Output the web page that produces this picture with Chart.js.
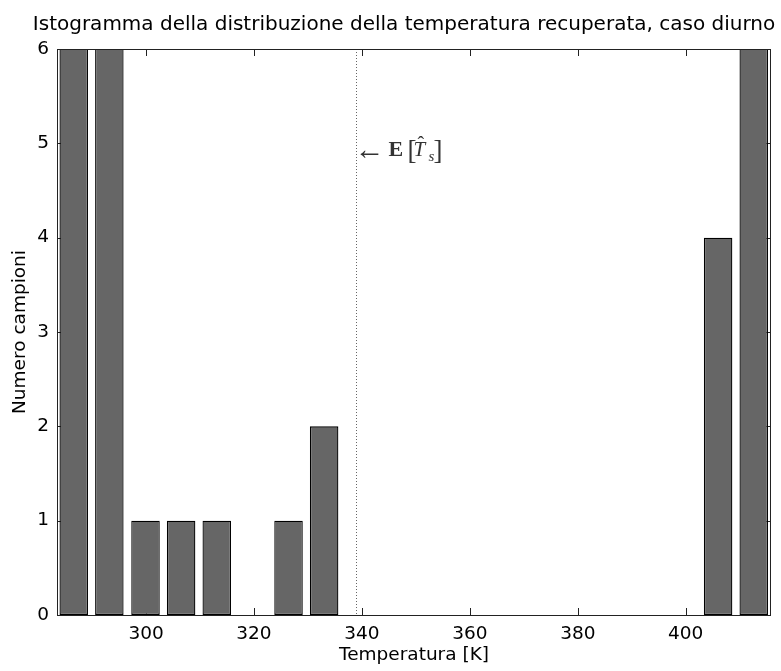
<!DOCTYPE html>
<html>
<head>
<meta charset="utf-8">
<title>Istogramma temperatura recuperata</title>
<script src="https://cdn.jsdelivr.net/npm/chart.js@4.4.1/dist/chart.umd.min.js"></script>
<style>
    html, body { margin: 0; padding: 0; background: #fff; }
    #wrap { width: 781px; height: 671px; }
</style>
</head>
<body>
<div id="wrap"><canvas id="histChart" width="781" height="671"></canvas></div>
<script>
// Centri dei 20 bin dell'istogramma [K] e numero di campioni per bin
const binCenters = [286.6, 293.2, 299.9, 306.5, 313.1, 319.8, 326.4, 333.0, 339.6, 346.3,
                    352.9, 359.5, 366.2, 372.8, 379.4, 386.1, 392.7, 399.3, 406.0, 412.6];
const counts = [25, 12, 1, 1, 1, 0, 1, 2, 0, 0,
                0, 0, 0, 0, 0, 0, 0, 0, 4, 18];

const xTicks = [300, 320, 340, 360, 380, 400];
const yTicks = [0, 1, 2, 3, 4, 5, 6];

// valore atteso della temperatura stimata
const meanT = 338.9;
const meanLabelY = 4.91;

const sansFont = "'DejaVu Sans', Arial, sans-serif";
const serifFont = "'Liberation Serif', 'DejaVu Serif', serif";

// box degli assi con tacche interne (stile MATLAB)
const axesBox = {
    id: 'axesBox',
    beforeDatasetsDraw(chart) {
        const { ctx, chartArea: a, scales: { x, y } } = chart;
        const tick = 7;
        ctx.save();
        ctx.strokeStyle = '#222';
        ctx.lineWidth = 1;
        ctx.beginPath();
        xTicks.forEach(v => {
            const px = Math.round(x.getPixelForValue(v)) + 0.5;
            ctx.moveTo(px, a.bottom);
            ctx.lineTo(px, a.bottom - tick);
            ctx.moveTo(px, a.top);
            ctx.lineTo(px, a.top + tick);
        });
        yTicks.forEach(v => {
            const py = Math.round(y.getPixelForValue(v)) + 0.5;
            ctx.moveTo(a.left, py);
            ctx.lineTo(a.left + tick, py);
            ctx.moveTo(a.right, py);
            ctx.lineTo(a.right - tick, py);
        });
        ctx.stroke();
        ctx.restore();
    },
    afterDatasetsDraw(chart) {
        const { ctx, chartArea: a, scales: { x, y } } = chart;
        ctx.save();

        // linea tratteggiata della media
        const mx = Math.round(x.getPixelForValue(meanT)) + 0.5;
        ctx.strokeStyle = '#666';
        ctx.lineWidth = 1;
        ctx.setLineDash([1, 2]);
        ctx.beginPath();
        ctx.moveTo(mx, a.top);
        ctx.lineTo(mx, a.bottom);
        ctx.stroke();
        ctx.setLineDash([]);

        // cornice
        ctx.strokeStyle = '#222';
        ctx.strokeRect(Math.round(a.left) + 0.5, Math.round(a.top) + 0.5,
                       Math.round(a.right - a.left) - 1, Math.round(a.bottom - a.top));

        // etichetta  <- E[T^_s]
        const ly = y.getPixelForValue(meanLabelY) + 4;
        ctx.fillStyle = '#333';
        ctx.textBaseline = 'alphabetic';
        ctx.textAlign = 'left';

        ctx.font = '30px ' + serifFont;
        ctx.fillText('\u2190', mx - 2, ly + 3);

        ctx.font = 'bold 22px ' + serifFont;
        ctx.fillText('E', mx + 32, ly);

        ctx.font = '27px ' + serifFont;
        ctx.fillText('[', mx + 51, ly + 3);

        ctx.font = 'italic 21px ' + serifFont;
        ctx.fillText('T', mx + 57, ly);
        ctx.font = '20px ' + serifFont;
        ctx.fillText('\u02C6', mx + 61, ly - 5);

        ctx.font = 'italic 15px ' + serifFont;
        ctx.fillText('s', mx + 72, ly + 5);

        ctx.font = '27px ' + serifFont;
        ctx.fillText(']', mx + 77, ly + 3);

        ctx.restore();
    },
    afterDraw(chart) {
        const { ctx } = chart;
        ctx.save();
        ctx.fillStyle = '#000';
        ctx.font = '20px ' + sansFont;
        ctx.textAlign = 'center';
        ctx.textBaseline = 'alphabetic';
        ctx.fillText('Istogramma della distribuzione della temperatura recuperata, caso diurno', 404, 30);
        ctx.restore();
    }
};

const ctx = document.getElementById('histChart');

new Chart(ctx, {
    type: 'bar',
    data: {
        datasets: [{
            label: 'Numero campioni',
            data: binCenters.map((c, i) => ({ x: c, y: counts[i] })),
            backgroundColor: '#666666',
            borderColor: '#000',
            borderWidth: 1.3,
            borderSkipped: false,
            barPercentage: 0.8,
            categoryPercentage: 1.0
        }]
    },
    options: {
        responsive: false,
        animation: false,
        devicePixelRatio: 1,
        layout: {
            padding: { top: 49, right: 10, bottom: 0, left: 0 }
        },
        plugins: {
            legend: { display: false },
            tooltip: { enabled: false },
            title: { display: false }
        },
        scales: {
            x: {
                type: 'linear',
                min: 283.5,
                max: 415.8,
                offset: false,
                grid: { display: false, drawTicks: false },
                border: { display: false },
                afterBuildTicks: scale => {
                    scale.ticks = xTicks.map(v => ({ value: v }));
                },
                afterFit: scale => { scale.height = 56; },
                ticks: {
                    color: '#000',
                    padding: 8,
                    maxRotation: 0,
                    font: { family: sansFont, size: 18.5 }
                },
                title: {
                    display: true,
                    text: 'Temperatura [K]',
                    color: '#000',
                    padding: { top: 0, bottom: 5 },
                    font: { family: sansFont, size: 18.5 }
                }
            },
            y: {
                min: 0,
                max: 6,
                grid: { display: false, drawTicks: false },
                border: { display: false },
                afterBuildTicks: scale => {
                    scale.ticks = yTicks.map(v => ({ value: v }));
                },
                afterFit: scale => { scale.width = 57; },
                ticks: {
                    color: '#000',
                    padding: 8,
                    font: { family: sansFont, size: 18.5 }
                },
                title: {
                    display: true,
                    text: 'Numero campioni',
                    color: '#000',
                    padding: { top: 9, bottom: 0 },
                    font: { family: sansFont, size: 18.5 }
                }
            }
        }
    },
    plugins: [axesBox]
});
</script>
</body>
</html>
